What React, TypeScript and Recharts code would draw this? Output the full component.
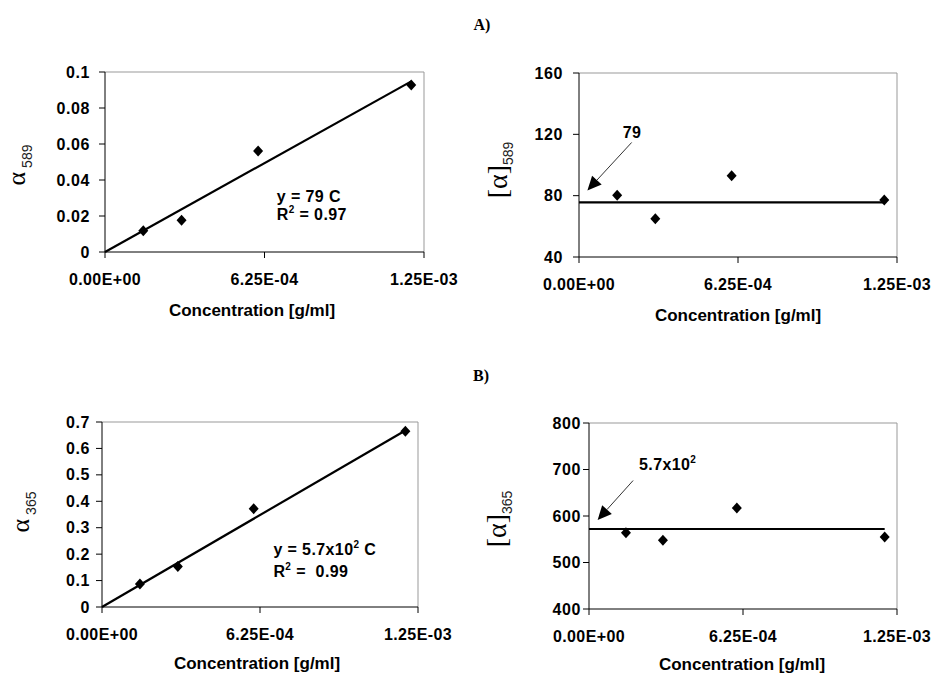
import React from 'react';
import { ScatterChart, Scatter, XAxis, YAxis, ReferenceLine, ReferenceDot } from 'recharts';

// ---- data ----
const concentrations = [1.5e-4, 3.0e-4, 6.0e-4, 1.2e-3];
const alpha589 = [0.0118, 0.0176, 0.0561, 0.0928];
const specific589 = [80.2, 65.0, 93.0, 77.2];
const alpha365 = [0.087, 0.153, 0.372, 0.665];
const specific365 = [564, 548, 617, 555];

const fitRangeX = [0, 1.2e-3];
const fitAlpha589 = [0, 0.0948];
const fitAlpha365 = [0, 0.668];
const mean589 = [75.6, 75.6];
const mean365 = [572, 572];

const xTicks = [0, 6.25e-4, 1.25e-3];
const xTickLabels = ['0.00E+00', '6.25E-04', '1.25E-03'];
const yTicksA1 = [0, 0.02, 0.04, 0.06, 0.08, 0.1];
const yTicksA2 = [40, 80, 120, 160];
const yTicksB1 = [0, 0.1, 0.2, 0.3, 0.4, 0.5, 0.6, 0.7];
const yTicksB2 = [400, 500, 600, 700, 800];

const arrowA2 = [{ x: 2.07e-4, y: 114.7 }, { x: 3.3e-5, y: 83.4 }];
const arrowB2 = [{ x: 1.79e-4, y: 676.3 }, { x: 3.5e-5, y: 591.5 }];

const SANS = '"Liberation Sans", Arial, sans-serif';
const SERIF = '"Liberation Serif", "Times New Roman", serif';

const toPoints = (xs: number[], ys: number[]) => xs.map((x, i) => ({ x, y: ys[i] }));

function Diamond(props: any) {
  const { cx, cy } = props;
  if (cx == null || cy == null) return <g />;
  return (
    <polygon
      points={`${cx},${cy - 5.5} ${cx + 5},${cy} ${cx},${cy + 5.5} ${cx - 5},${cy}`}
      fill="#000"
    />
  );
}

function NoShape() {
  return <g />;
}

function XTick(props: any) {
  const { x, y, payload } = props;
  const i = xTicks.indexOf(payload.value);
  return (
    <text x={x} y={y + 25} textAnchor="middle" fontFamily={SANS} fontSize={16} fontWeight="bold" fill="#000" letterSpacing={0.4}>
      {i >= 0 ? xTickLabels[i] : String(payload.value)}
    </text>
  );
}

function YTick(props: any) {
  const { x, y, payload } = props;
  return (
    <text x={x} y={y + 5.5} textAnchor="end" fontFamily={SANS} fontSize={16} fontWeight="bold" fill="#000" letterSpacing={0.6}>
      {String(payload.value)}
    </text>
  );
}

function ArrowShape(props: any) {
  const { x1, y1, x2, y2 } = props;
  const dx = x2 - x1;
  const dy = y2 - y1;
  const len = Math.hypot(dx, dy) || 1;
  const ux = dx / len;
  const uy = dy / len;
  const L = 14;
  const W = 6.5;
  const bx = x2 - ux * L;
  const by = y2 - uy * L;
  const px = -uy;
  const py = ux;
  return (
    <g>
      <line x1={x1} y1={y1} x2={bx} y2={by} stroke="#333" strokeWidth={1} />
      <polygon points={`${x2},${y2} ${bx + px * W},${by + py * W} ${bx - px * W},${by - py * W}`} fill="#000" />
    </g>
  );
}

type PanelCfg = {
  left: number;
  top: number;
  width: number;
  height: number;
  margin: { top: number; right: number; bottom: number; left: number };
  yAxisWidth: number;
  yDomain: [number, number];
  yTicks: number[];
  yTickMargin: number;
  points: { x: number; y: number }[];
  fit: { x: number; y: number }[];
  xLabelX: number;
  xLabelDy: number;
  yLabel: { x: number; y: number; main: string; sub: string; size: number; subDy: number; subDx: number };
  extra?: React.ReactNode[];
};

function Panel(cfg: PanelCfg) {
  const { left, top, width, height, margin, yAxisWidth, yDomain, yTicks, yTickMargin, points, fit, xLabelX, xLabelDy, yLabel } = cfg;
  return (
    <div style={{ position: 'absolute', left, top, width, height }}>
      <ScatterChart width={width} height={height} margin={margin}>
        <XAxis
          type="number"
          dataKey="x"
          domain={[0, 1.25e-3]}
          ticks={xTicks}
          interval={0}
          tickSize={6}
          tickMargin={2}
          height={60}
          axisLine={{ stroke: '#000', strokeWidth: 1 }}
          tickLine={{ stroke: '#000' }}
          tick={<XTick />}
          label={{
            content: (p: any) => (
              <text
                x={xLabelX}
                y={(p.viewBox?.y ?? 0) + xLabelDy}
                textAnchor="middle"
                fontFamily={SANS}
                fontSize={17}
                fontWeight="bold"
                fill="#000"
              >
                Concentration [g/ml]
              </text>
            ),
          }}
        />
        <YAxis
          type="number"
          dataKey="y"
          domain={yDomain}
          ticks={yTicks}
          interval={0}
          width={yAxisWidth}
          tickSize={6}
          tickMargin={yTickMargin}
          axisLine={{ stroke: '#000', strokeWidth: 1 }}
          tickLine={{ stroke: '#000' }}
          tick={<YTick />}
          label={{
            content: () => (
              <text
                x={yLabel.x}
                y={yLabel.y}
                transform={`rotate(-90, ${yLabel.x}, ${yLabel.y})`}
                textAnchor="middle"
                fill="#000"
              >
                <tspan fontFamily={SERIF} fontSize={yLabel.size}>{yLabel.main}</tspan>
                <tspan fontFamily={SANS} fontSize={14} fill="#222" dy={yLabel.subDy} dx={yLabel.subDx}>
                  {yLabel.sub}
                </tspan>
              </text>
            ),
          }}
        />
        <ReferenceLine y={yDomain[1]} stroke="#999" strokeWidth={1} />
        <ReferenceLine x={1.25e-3} stroke="#999" strokeWidth={1} />
        <Scatter data={fit} line={{ stroke: '#000', strokeWidth: 2.2 }} shape={NoShape} isAnimationActive={false} />
        <Scatter data={points} shape={Diamond} isAnimationActive={false} />
        {cfg.extra}
      </ScatterChart>
    </div>
  );
}

const eqText = (lines: React.ReactNode[], spacing: number) => (p: any) => {
  const vb = p.viewBox || { x: 0, y: 0 };
  return (
    <g>
      {lines.map((l, i) => (
        <text key={i} x={vb.x} y={vb.y + i * spacing} fontFamily={SANS} fontSize={16} fontWeight="bold" fill="#000" letterSpacing={0.4}>
          {l}
        </text>
      ))}
    </g>
  );
};

export default function App() {
  const panelA1: PanelCfg = {
    left: 0,
    top: 40,
    width: 460,
    height: 300,
    margin: { top: 32, right: 36, bottom: 28, left: 0 },
    yAxisWidth: 105,
    yDomain: [0, 0.1],
    yTicks: yTicksA1,
    yTickMargin: 9,
    points: toPoints(concentrations, alpha589),
    fit: toPoints(fitRangeX, fitAlpha589),
    xLabelX: 252,
    xLabelDy: 64,
    yLabel: { x: 25, y: 125, main: 'α', sub: '589', size: 26, subDy: 7, subDx: 4 },
    extra: [
      <ReferenceDot
        key="eq"
        x={6.73e-4}
        y={0.0278}
        r={0}
        fill="none"
        stroke="none"
        label={{
          content: eqText(
            [
              'y = 79 C',
              <>
                R<tspan fontSize={10} dy={-7}>2</tspan>
                <tspan dy={7}> = 0.97</tspan>
              </>,
            ],
            18
          ),
        }}
      />,
    ],
  };

  const panelA2: PanelCfg = {
    left: 470,
    top: 40,
    width: 464,
    height: 300,
    margin: { top: 33, right: 37, bottom: 23, left: 0 },
    yAxisWidth: 109,
    yDomain: [40, 160],
    yTicks: yTicksA2,
    yTickMargin: 10,
    points: toPoints(concentrations, specific589),
    fit: toPoints(fitRangeX, mean589),
    xLabelX: 268,
    xLabelDy: 64,
    yLabel: { x: 37, y: 130, main: '[α]', sub: '589', size: 28, subDy: 6, subDx: 0 },
    extra: [
      <ReferenceLine key="arr" segment={arrowA2} shape={ArrowShape} />,
      <ReferenceDot
        key="lab"
        x={1.72e-4}
        y={117.6}
        r={0}
        fill="none"
        stroke="none"
        label={{ content: eqText(['79'], 0) }}
      />,
    ],
  };

  const panelB1: PanelCfg = {
    left: 0,
    top: 370,
    width: 460,
    height: 305,
    margin: { top: 52, right: 42, bottom: 8, left: 0 },
    yAxisWidth: 102,
    yDomain: [0, 0.7],
    yTicks: yTicksB1,
    yTickMargin: 6,
    points: toPoints(concentrations, alpha365),
    fit: toPoints(fitRangeX, fitAlpha365),
    xLabelX: 257,
    xLabelDy: 62,
    yLabel: { x: 29, y: 142, main: 'α', sub: '365', size: 26, subDy: 7, subDx: 4 },
    extra: [
      <ReferenceDot
        key="eq"
        x={6.78e-4}
        y={0.197}
        r={0}
        fill="none"
        stroke="none"
        label={{
          content: eqText(
            [
              <>
                y = 5.7x10<tspan fontSize={10} dy={-7}>2</tspan>
                <tspan dy={7}> C</tspan>
              </>,
              <>
                R<tspan fontSize={10} dy={-7}>2</tspan>
                <tspan dy={7}>{' =\u00a0 0.99'}</tspan>
              </>,
            ],
            22
          ),
        }}
      />,
    ],
  };

  const panelB2: PanelCfg = {
    left: 470,
    top: 370,
    width: 464,
    height: 305,
    margin: { top: 53, right: 37, bottom: 6, left: 0 },
    yAxisWidth: 119,
    yDomain: [400, 800],
    yTicks: yTicksB2,
    yTickMargin: 2,
    points: toPoints(concentrations, specific365),
    fit: toPoints(fitRangeX, mean365),
    xLabelX: 272,
    xLabelDy: 61,
    yLabel: { x: 36, y: 149, main: '[α]', sub: '365', size: 28, subDy: 6, subDx: 0 },
    extra: [
      <ReferenceLine key="arr" segment={arrowB2} shape={ArrowShape} />,
      <ReferenceDot
        key="lab"
        x={2.03e-4}
        y={697.9}
        r={0}
        fill="none"
        stroke="none"
        label={{
          content: eqText(
            [
              <>
                5.7x10<tspan fontSize={10} dy={-7}>2</tspan>
              </>,
            ],
            0
          ),
        }}
      />,
    ],
  };

  return (
    <div style={{ position: 'absolute', left: 0, top: 0, width: 934, height: 675, background: '#fff', overflow: 'hidden' }}>
      <Panel {...panelA1} />
      <Panel {...panelA2} />
      <Panel {...panelB1} />
      <Panel {...panelB2} />
      <svg width={934} height={675} style={{ position: 'absolute', left: 0, top: 0, pointerEvents: 'none' }}>
        <text x={482} y={30} textAnchor="middle" fontFamily={SERIF} fontSize={16} fontWeight="bold" fill="#000">
          A)
        </text>
        <text x={481} y={381} textAnchor="middle" fontFamily={SERIF} fontSize={16} fontWeight="bold" fill="#000">
          B)
        </text>
      </svg>
    </div>
  );
}
